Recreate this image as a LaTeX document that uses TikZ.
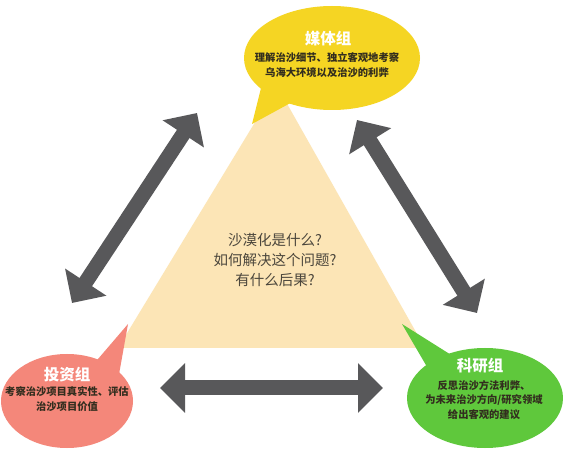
\documentclass[tikz,border=0pt]{standalone}
\usepackage{fontspec}
\setmainfont{Noto Sans CJK SC}
\usetikzlibrary{arrows.meta,shapes.geometric}
\definecolor{cyel}{RGB}{245,213,35}
\definecolor{cred}{RGB}{244,135,122}
\definecolor{cgrn}{RGB}{95,200,60}
\definecolor{ctri}{RGB}{252,229,182}
\definecolor{cgray}{RGB}{88,88,90}
\definecolor{ctxt}{RGB}{50,45,30}
\definecolor{cmid}{RGB}{75,70,60}
\begin{document}
\begin{tikzpicture}[x=1pt,y=-1pt,
  bubble/.style={ellipse, inner sep=0pt, draw=none},
  ttl/.style={text=white, font=\bfseries\fontsize{15.5}{18}\selectfont, inner sep=0pt},
  body/.style={text=ctxt, font=\bfseries\fontsize{10.3}{15.5}\selectfont, align=center, inner sep=0pt},
  dblarrow/.style={line width=15pt, draw=cgray,
    {Triangle[length=25pt 0 0,width=48pt 0 0]}-{Triangle[length=25pt 0 0,width=48pt 0 0]}}
]
\useasboundingbox (0,0) rectangle (563,457);
\fill[white] (0,0) rectangle (563,457);

% central triangle
\coordinate (tA) at (277,86);
\coordinate (tB) at (118,348);
\coordinate (tC) at (425,348);
\fill[ctri] (tA) -- (tB) -- (tC) -- cycle;
\node[text=cmid, font=\fontsize{14.5}{20}\selectfont, align=center, inner sep=0pt] (center) at (275,260)
  {沙漠化是什么?\\如何解决这个问题?\\有什么后果?};

% arrows
\coordinate (l1) at (72,303);
\coordinate (l2) at (197,113);
\coordinate (r1) at (357,120);
\coordinate (r2) at (477,313);
\coordinate (b1) at (160,388);
\coordinate (b2) at (383,388);
\draw[dblarrow] (l1) -- (l2);
\draw[dblarrow] (r1) -- (r2);
\draw[dblarrow] (b1) -- (b2);

% media bubble (yellow)
\coordinate (mtip) at (252,124);
\fill[cyel] (mtip) -- (262,84) -- (296,100) -- cycle;
\node[bubble, fill=cyel, minimum width=176pt, minimum height=104pt] (media) at (332,58) {};
\node[ttl] (mediaT) at (328,39) {媒体组};
\node[body] (mediaB) at (327,65) {理解治沙细节、独立客观地考察\\乌海大环境以及治沙的利弊};

% invest bubble (red)
\coordinate (itip) at (128,324);
\fill[cred] (itip) -- (92,366) -- (118,380) -- cycle;
\node[bubble, fill=cred, minimum width=132pt, minimum height=94pt] (invest) at (67,401) {};
\node[ttl] (investT) at (67,375) {投资组};
\node[body] (investB) at (67,399) {考察治沙项目真实性、评估\\治沙项目价值};

% research bubble (green)
\coordinate (rtip) at (402,324);
\fill[cgrn] (rtip) -- (430,372) -- (456,358) -- cycle;
\node[bubble, fill=cgrn, minimum width=156pt, minimum height=100pt] (research) at (485,398) {};
\node[ttl] (researchT) at (480,366) {科研组};
\node[body, font=\bfseries\fontsize{10.3}{14.5}\selectfont] (researchB) at (484,400) {反思治沙方法利弊、\\为未来治沙方向/研究领域\\给出客观的建议};
\end{tikzpicture}
\end{document}
